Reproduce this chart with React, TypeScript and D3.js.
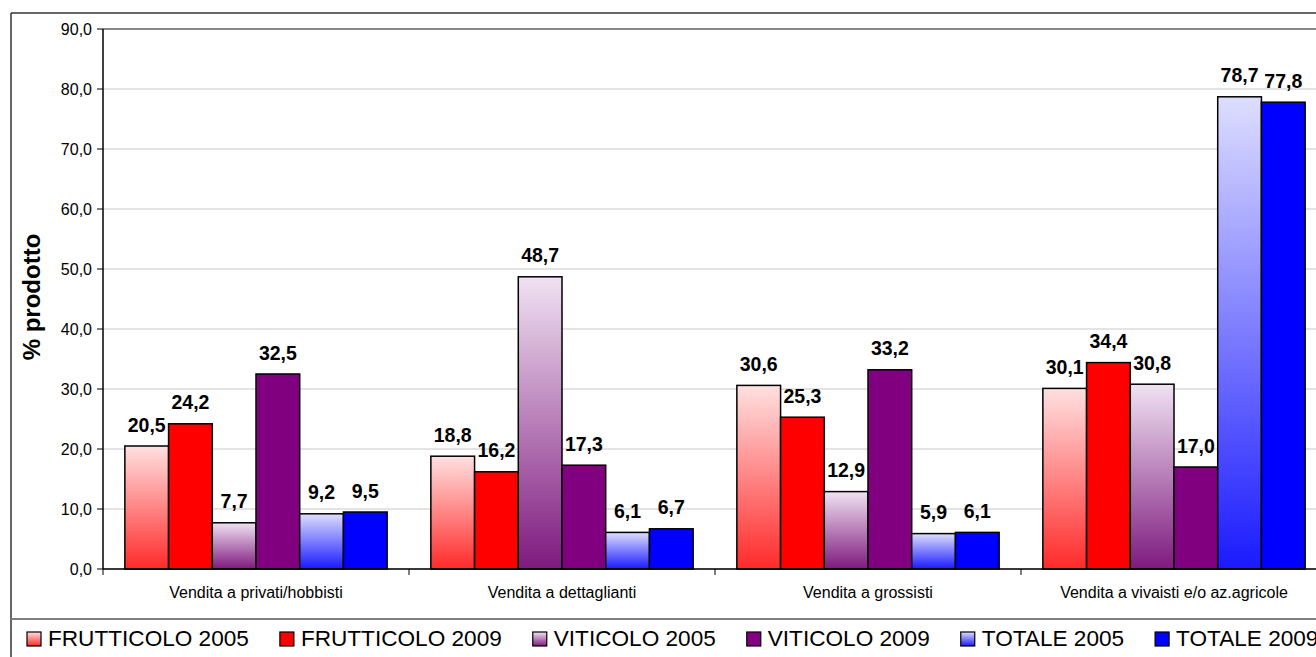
import React from 'react';
import * as d3 from 'd3';

// Chart data
const categories = [
  'Vendita a privati/hobbisti',
  'Vendita a dettaglianti',
  'Vendita a grossisti',
  'Vendita a vivaisti e/o az.agricole',
];
const seriesNames = [
  'FRUTTICOLO 2005',
  'FRUTTICOLO 2009',
  'VITICOLO 2005',
  'VITICOLO 2009',
  'TOTALE 2005',
  'TOTALE 2009',
];
const frutticolo2005 = [20.5, 18.8, 30.6, 30.1];
const frutticolo2009 = [24.2, 16.2, 25.3, 34.4];
const viticolo2005 = [7.7, 48.7, 12.9, 30.8];
const viticolo2009 = [32.5, 17.3, 33.2, 17.0];
const totale2005 = [9.2, 6.1, 5.9, 78.7];
const totale2009 = [9.5, 6.7, 6.1, 77.8];
const yTicks = [0, 10, 20, 30, 40, 50, 60, 70, 80, 90];
const yTitle = '% prodotto';

const seriesValues = [frutticolo2005, frutticolo2009, viticolo2005, viticolo2009, totale2005, totale2009];

// Fill style per series: gradient (light top -> saturated bottom) or solid
const seriesStyles = [
  { gradient: ['#ffe0e0', '#ff2a2a'] },
  { solid: '#ff0000' },
  { gradient: ['#f0e2f2', '#7e1a7e'] },
  { solid: '#800080' },
  { gradient: ['#dedeff', '#1a1aff'] },
  { solid: '#0000ff' },
];

const FONT = '"Liberation Sans", Arial, Helvetica, sans-serif';
const W = 1316;
const H = 657;
const plotLeft = 103;
const plotTop = 29;
const plotBottom = 569;
const bandW = 306;

const fmt = (v: number) => d3.format('.1f')(v).replace('.', ',');

function measure(text: string, font: string): number {
  const c = document.createElement('canvas');
  const ctx = c.getContext('2d');
  if (!ctx) return text.length * 12;
  ctx.font = font;
  return ctx.measureText(text).width;
}

export default function App() {
  const x = d3
    .scaleBand<string>()
    .domain(categories)
    .range([plotLeft, plotLeft + bandW * categories.length])
    .paddingInner(0)
    .paddingOuter(0);
  const xs = d3
    .scaleBand<string>()
    .domain(seriesNames)
    .range([0, x.bandwidth()])
    .paddingInner(0)
    .paddingOuter(0.5);
  const y = d3.scaleLinear().domain([0, 90]).range([plotBottom, plotTop]);

  const fillFor = (i: number) => {
    const s = seriesStyles[i];
    return s.solid ? s.solid : `url(#grad${i})`;
  };

  // Legend layout from measured text widths
  const legendFontSize = 22.6;
  const legendFont = `${legendFontSize}px ${FONT}`;
  const legendY = 646;
  const legendItems: { name: string; x: number; i: number }[] = [];
  let lx = 27;
  seriesNames.forEach((name, i) => {
    legendItems.push({ name, x: lx, i });
    lx += 22 + measure(name, legendFont) + 30;
  });

  const boundaries = d3.range(categories.length + 1).map((k) => plotLeft + k * bandW);

  return (
    <svg
      width={W}
      height={H}
      style={{ position: 'absolute', left: 0, top: 0, background: '#fff' }}
      fontFamily={FONT}
    >
      <defs>
        {seriesStyles.map((s, i) =>
          s.gradient ? (
            <linearGradient key={i} id={`grad${i}`} x1="0" y1="0" x2="0" y2="1">
              <stop offset="0%" stopColor={s.gradient[0]} />
              <stop offset="100%" stopColor={s.gradient[1]} />
            </linearGradient>
          ) : null
        )}
      </defs>
      <rect x={0} y={0} width={W} height={H} fill="#fff" />

      {/* outer chart frame */}
      <line x1={11} y1={13} x2={W} y2={13} stroke="#333" strokeWidth={1.5} />
      <line x1={11} y1={13} x2={11} y2={H} stroke="#333" strokeWidth={1.5} />

      {/* gridlines */}
      {yTicks.map((t) => (
        <line
          key={t}
          x1={plotLeft}
          x2={W}
          y1={y(t)}
          y2={y(t)}
          stroke={t === 90 ? '#888' : '#c8c8c8'}
          strokeWidth={t === 90 ? 2 : 1}
        />
      ))}

      {/* y axis */}
      <line x1={plotLeft} x2={plotLeft} y1={plotTop} y2={plotBottom} stroke="#000" strokeWidth={1.5} />
      {yTicks.map((t) => (
        <g key={t}>
          <line x1={plotLeft - 6} x2={plotLeft} y1={y(t)} y2={y(t)} stroke="#000" strokeWidth={1} />
          <text x={92} y={y(t)} dy="0.35em" textAnchor="end" fontSize={16} fill="#000">
            {fmt(t)}
          </text>
        </g>
      ))}
      <text
        transform={`translate(40, 297) rotate(-90)`}
        textAnchor="middle"
        fontSize={24}
        fontWeight="bold"
        fill="#000"
      >
        {yTitle}
      </text>

      {/* bars */}
      {categories.map((c, ci) => (
        <g key={c} transform={`translate(${x(c)},0)`}>
          {seriesNames.map((s, si) => {
            const v = seriesValues[si][ci];
            const bx = xs(s) as number;
            return (
              <rect
                key={s}
                x={bx}
                y={y(v)}
                width={xs.bandwidth()}
                height={plotBottom - y(v)}
                fill={fillFor(si)}
                stroke="#000"
                strokeWidth={1.5}
              />
            );
          })}
        </g>
      ))}

      {/* x axis */}
      <line x1={plotLeft} x2={W} y1={plotBottom} y2={plotBottom} stroke="#000" strokeWidth={1.5} />
      {boundaries.map((b) => (
        <line key={b} x1={b} x2={b} y1={plotBottom} y2={plotBottom + 6} stroke="#000" strokeWidth={1} />
      ))}
      {categories.map((c) => (
        <text
          key={c}
          x={(x(c) as number) + x.bandwidth() / 2}
          y={598}
          textAnchor="middle"
          fontSize={16}
          fill="#000"
        >
          {c}
        </text>
      ))}

      {/* value labels */}
      {categories.map((c, ci) =>
        seriesNames.map((s, si) => {
          const v = seriesValues[si][ci];
          const cx = (x(c) as number) + (xs(s) as number) + xs.bandwidth() / 2;
          return (
            <text
              key={`${c}-${s}`}
              x={cx}
              y={y(v) - 14.5}
              textAnchor="middle"
              fontSize={19.5}
              fontWeight="bold"
              fill="#000"
            >
              {fmt(v)}
            </text>
          );
        })
      )}

      {/* legend */}
      <line x1={11} x2={W} y1={619} y2={619} stroke="#808080" strokeWidth={2} />
      {legendItems.map((it) => (
        <g key={it.name}>
          <rect
            x={it.x}
            y={legendY - 14}
            width={14}
            height={14}
            fill={fillFor(it.i)}
            stroke="#000"
            strokeWidth={1.2}
          />
          <text x={it.x + 21} y={legendY} fontSize={legendFontSize} fill="#000">
            {it.name}
          </text>
        </g>
      ))}
    </svg>
  );
}
